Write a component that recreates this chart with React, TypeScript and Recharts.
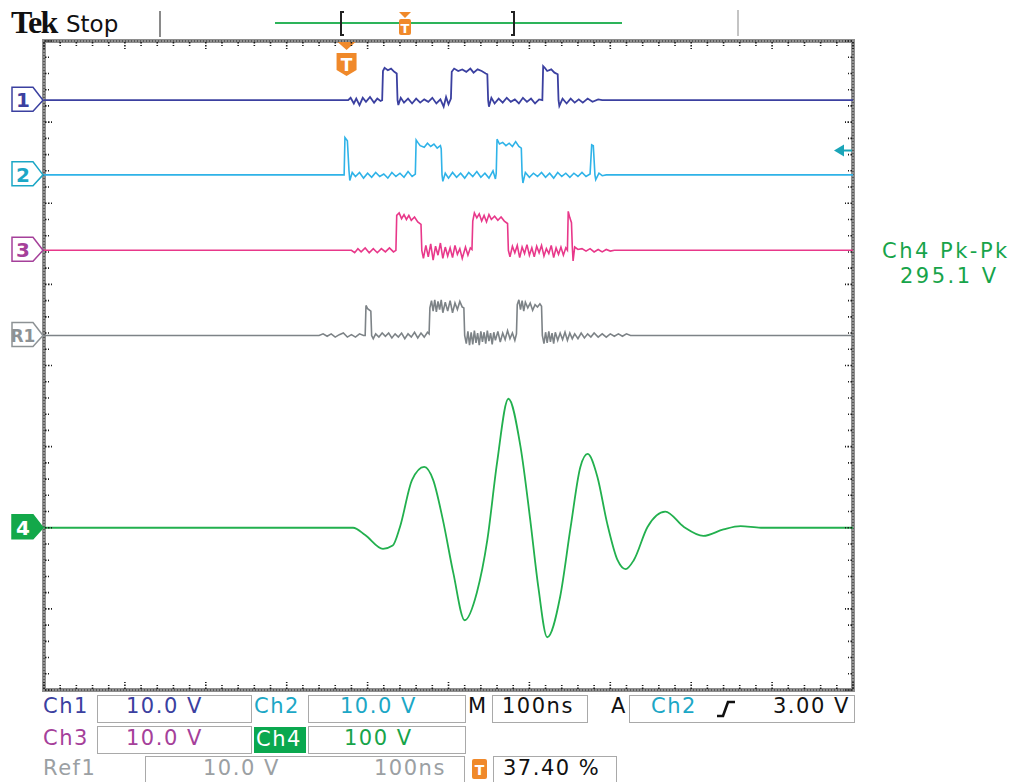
import React from 'react';
import { ComposedChart, Line, XAxis, YAxis, ReferenceArea, ReferenceDot } from 'recharts';

// horizontal: 10 div x 100 ns, vertical: 8 div
const timeTicks = Array.from({ length: 51 }, (_, i) => i * 20);
const divTicks = Array.from({ length: 41 }, (_, i) => Math.round(i * 2) / 10);

// channel positions on screen (divisions from bottom) and scales (V/div)
const CH1_POS = 7.27;
const CH2_POS = 6.35;
const CH3_POS = 5.42;
const REF1_POS = 4.37;
const CH4_POS = 2.0;
const DIGITAL_SCALE = 10;
const CH4_SCALE = 100;
const TRIGGER_TIME = 374;
const TRIGGER_LEVEL = 3.0;

// [time ns, volts]
const ch1Samples = [
  [0, 0], [376, 0], [379, 0.3], [383, -0.4], [386, 0.2], [390, -0.6], [394, 0.3], [398, -0.2],
  [403, 0.4], [408, -0.3], [412, 0.2], [416, -0.1], [418, 0], [419, 3.6], [421, 4.0], [425, 3.7], [429, 3.9], [433, 3.5],
  [436, 3.3], [437, 0], [438, -0.6], [441, 0.3], [445, -0.3], [450, 0.2], [455, -0.4], [460, 0.2], [465, -0.3], [470, 0.1],
  [475, -0.2], [480, 0.3], [485, -0.4], [490, 0.1], [494, -0.8], [497, 0.4], [500, -0.5], [503, 0.2], [504, 3.5], [507, 3.9],
  [512, 3.6], [517, 3.8], [522, 3.5], [527, 3.9], [531, 3.4], [536, 3.8], [541, 3.6], [546, 3.3], [548, 3.2], [549, 0],
  [550, -0.8], [553, 0.3], [557, -0.4], [562, 0.2], [567, -0.3], [572, 0.3], [577, -0.2], [582, 0.1], [587, -0.4], [592, 0.3],
  [597, -0.2], [602, 0.2], [607, -0.4], [612, 0.1], [616, 0], [617, 4.2], [619, 4.0], [622, 3.6], [627, 3.8], [631, 3.4],
  [635, 3.2], [636, 0], [637, -0.7], [641, 0.2], [646, -0.4], [651, 0.2], [656, -0.3], [661, 0.1], [666, -0.3], [672, 0.2],
  [678, -0.2], [685, 0.1], [690, 0], [1000, 0],
];

const ch2Samples = [
  [0, 0], [371, 0], [372, 4.6], [375, 4.2], [377, 0.5], [378, -0.7], [381, 0.3], [385, -0.2], [390, 0.3], [395, -0.4],
  [400, 0.2], [405, -0.3], [410, 0.3], [415, -0.2], [420, 0.1], [425, -0.4], [430, 0.3], [435, -0.2], [440, 0.2], [445, -0.3],
  [450, 0.4], [455, -0.2], [459, 0.1], [460, 4.3], [462, 4.0], [465, 3.6], [470, 3.4], [474, 3.9], [478, 3.5], [482, 3.8],
  [486, 3.3], [490, 3.6], [491, 3.2], [492, 0], [493, -0.8], [496, 0.2], [500, -0.4], [505, 0.3], [510, -0.3], [515, 0.2],
  [520, -0.4], [525, 0.3], [530, -0.2], [535, 0.4], [540, -0.3], [545, 0.2], [550, -0.4], [555, 0.5], [558, -0.5], [559, 0.2],
  [560, 4.4], [563, 3.8], [567, 4.0], [571, 3.6], [575, 3.9], [579, 3.5], [583, 4.1], [587, 3.5], [590, 3.3], [591, 0],
  [592, -1.0], [595, 0.3], [600, -0.3], [605, 0.2], [610, -0.2], [615, 0.3], [620, -0.3], [625, 0.2], [630, -0.4], [635, 0.3],
  [640, -0.2], [645, 0.2], [650, -0.3], [655, 0.2], [660, -0.2], [665, 0.3], [670, -0.2], [675, 0.1], [677, 3.7], [679, 3.6],
  [681, 0], [682, -0.6], [686, 0.2], [690, -0.1], [695, 0], [1000, 0],
];

const ch3Samples = [
  [0, 0], [380, 0], [384, -0.3], [388, 0.2], [392, -0.2], [397, 0.3], [402, -0.3], [407, 0.2], [412, -0.3], [417, 0.2],
  [422, -0.2], [427, 0.3], [432, -0.2], [435, 0], [436, 4.3], [439, 4.6], [442, 3.9], [445, 4.4], [448, 3.8], [451, 4.3],
  [454, 3.7], [458, 4.1], [462, 3.5], [466, 3.2], [467, 0], [469, -1.0], [472, 0.6], [475, -0.8], [478, 0.8], [481, -1.2],
  [484, 0.5], [487, -0.6], [490, 0.9], [493, -1.0], [496, 0.4], [499, -0.7], [502, 0.3], [505, -0.9], [508, 0.6], [511, -0.5],
  [514, 0.2], [517, -1.0], [521, 0.4], [524, -0.6], [527, 0.3], [529, 0.1], [530, 3.6], [532, 4.6], [535, 4.0], [538, 4.5],
  [541, 3.6], [544, 4.3], [547, 3.5], [550, 4.4], [553, 3.8], [557, 4.2], [561, 3.7], [565, 4.1], [569, 3.6], [573, 3.3],
  [574, 0], [576, -0.8], [579, 0.5], [582, -0.3], [585, 0.6], [588, -0.9], [591, 0.4], [594, -0.4], [597, 0.7], [600, -0.6],
  [603, 0.3], [606, -0.8], [609, 0.5], [612, -0.3], [615, 0.6], [618, -0.7], [621, 0.2], [624, -0.4], [627, 0.6], [630, -0.9],
  [633, 0.3], [636, -0.5], [639, 0.4], [642, -0.6], [645, 0.3], [647, 0], [648, 4.8], [650, 4.0], [652, 3.4], [653, 0.5],
  [654, -1.3], [656, 0.4], [660, 0.1], [665, 0.2], [670, -0.1], [675, 0.2], [680, -0.2], [685, 0.1], [690, -0.2], [695, 0.1],
  [700, -0.1], [705, 0], [1000, 0],
];

const ref1Samples = [
  [0, 0], [340, 0], [345, 0.2], [350, -0.1], [355, 0.2], [360, -0.2], [365, 0.1], [370, 0.3], [375, -0.2], [380, 0.1],
  [385, -0.2], [390, 0.2], [395, 0], [397, 0], [398, 3.7], [400, 3.3], [404, 3.0], [405, 0], [407, -0.4], [410, 0.2],
  [414, -0.2], [418, 0.3], [422, -0.1], [426, 0.3], [430, -0.3], [434, 0.2], [438, -0.2], [442, 0.3], [446, -0.4], [450, 0.2],
  [454, -0.2], [458, 0.4], [462, -0.3], [466, 0.3], [470, -0.2], [474, 0.4], [476, 0.2], [477, 3.4], [479, 4.3], [481, 3.0],
  [483, 4.4], [485, 2.9], [487, 4.2], [489, 3.2], [491, 4.4], [493, 2.8], [496, 4.1], [499, 3.0], [502, 4.3], [505, 2.8],
  [508, 4.0], [511, 3.2], [514, 4.2], [517, 3.5], [519, 3.4], [520, 0], [522, -1.0], [524, 0.5], [526, -1.2], [528, 0.4],
  [530, -1.1], [532, 0.6], [534, -0.9], [536, 0.3], [538, -1.2], [540, 0.5], [542, -0.8], [544, 0.4], [546, -1.0], [548, 0.6],
  [550, -0.7], [552, 0.3], [554, -1.1], [556, 0.4], [558, -0.6], [561, 0.5], [564, -0.8], [567, 0.3], [570, -0.5], [573, 0.6],
  [576, -0.4], [579, 0.3], [582, -0.6], [584, 0.2], [585, 3.8], [587, 4.4], [589, 3.2], [591, 4.3], [593, 3.0], [595, 4.1],
  [598, 3.4], [601, 4.0], [604, 3.1], [607, 3.8], [610, 3.5], [613, 3.9], [615, 3.6], [616, 0], [618, -1.0], [620, 0.4],
  [622, -0.9], [624, 0.5], [626, -0.8], [628, 0.3], [630, -1.0], [632, 0.4], [635, -0.6], [638, 0.3], [641, -0.5], [644, 0.4],
  [647, -0.6], [650, 0.3], [653, -0.4], [656, 0.2], [660, -0.4], [664, 0.3], [668, -0.3], [672, 0.2], [676, -0.2], [680, 0.3],
  [685, -0.2], [690, 0.2], [695, -0.2], [700, 0.2], [705, -0.1], [710, 0.2], [715, -0.1], [720, 0.2], [725, 0], [1000, 0],
];

const ch4Samples = [
  [0, 0], [382, 0], [397, -9], [419, -26], [431, -22], [440, 1], [455, 59], [470, 75], [481, 59], [493, 10],
  [506, -56], [520, -114], [535, -80], [548, -15], [560, 80], [574, 159], [589, 100], [601, 10], [611, -73], [622, -135],
  [638, -85], [651, 1], [663, 75], [672, 91], [684, 63], [696, 6], [709, -40], [719, -51], [729, -40], [746, 1],
  [768, 20], [791, 1], [815, -10], [840, -2], [861, 2], [886, 0], [1000, 0],
];

const toTrace = (samples: number[][], pos: number, scale: number) =>
  samples.map(([t, v]) => ({ t, y: pos + v / scale }));

const ch1Data = toTrace(ch1Samples, CH1_POS, DIGITAL_SCALE);
const ch2Data = toTrace(ch2Samples, CH2_POS, DIGITAL_SCALE);
const ch3Data = toTrace(ch3Samples, CH3_POS, DIGITAL_SCALE);
const ref1Data = toTrace(ref1Samples, REF1_POS, DIGITAL_SCALE);
const ch4Data = toTrace(ch4Samples, CH4_POS, CH4_SCALE);

const C_CH1 = '#3b40a0';
const C_CH2 = '#2fb3e8';
const C_CH2_TXT = '#1ca7c6';
const C_CH3 = '#e8388a';
const C_CH3_TXT = '#a5409a';
const C_REF = '#7d8387';
const C_CH4 = '#22b04e';
const C_ORANGE = '#f0892a';
const FONT = "'DejaVu Sans', 'Liberation Sans', sans-serif";

const markers = [
  { pos: CH1_POS, label: '1', color: C_CH1, filled: false },
  { pos: CH2_POS, label: '2', color: C_CH2_TXT, filled: false },
  { pos: CH3_POS, label: '3', color: C_CH3_TXT, filled: false },
  { pos: REF1_POS, label: 'R1', color: '#8d9295', filled: false },
  { pos: CH4_POS, label: '4', color: '#13a84a', filled: true },
];

const dotted = { stroke: '#1a1a1a', strokeWidth: 1.6, strokeDasharray: '1.5 1.5' };

const TopTick = ({ x, y, index }: any) => (
  <line x1={x} x2={x} y1={y + 1} y2={y + (index % 5 === 0 ? 8 : 5)} {...dotted} />
);
const BottomTick = ({ x, y, index }: any) => (
  <line x1={x} x2={x} y1={y - 1} y2={y - (index % 5 === 0 ? 8 : 5)} {...dotted} />
);
const LeftTick = ({ x, y, index }: any) => (
  <line x1={x + 1} x2={x + (index % 5 === 0 ? 8 : 5)} y1={y} y2={y} {...dotted} />
);
const RightTick = ({ x, y, index }: any) => (
  <line x1={x - 1} x2={x - (index % 5 === 0 ? 8 : 5)} y1={y} y2={y} {...dotted} />
);

const MarkerTick = ({ x, y, payload }: any) => {
  const m = markers.find((k) => Math.abs(k.pos - payload.value) < 1e-6);
  if (!m) return <g />;
  const px = x + 1;
  const pts = `${px - 32},${y - 13} ${px - 11},${y - 13} ${px - 1},${y} ${px - 11},${y + 11} ${px - 32},${y + 11}`;
  return (
    <g>
      <polygon points={pts} fill={m.filled ? m.color : '#fff'} stroke={m.color} strokeWidth={1.5} />
      <text x={px - 21} y={y + 7} textAnchor="middle" fontFamily={FONT} fontSize={m.label.length > 1 ? 17 : 20}
        fontWeight="bold" fill={m.filled ? '#fff' : m.color}>{m.label}</text>
    </g>
  );
};

const TriggerMarker = ({ cx, cy }: any) => (
  <g>
    <polygon points={`${cx - 9},${cy + 1} ${cx + 9},${cy + 1} ${cx},${cy + 9}`} fill={C_ORANGE} />
    <path d={`M${cx - 10},${cy + 12} h20 v17 l-10,6 l-10,-6 z`} fill={C_ORANGE} />
    <text x={cx} y={cy + 30} textAnchor="middle" fontFamily={FONT} fontSize={17} fontWeight="bold" fill="#fff">T</text>
  </g>
);

const LevelMarker = ({ cx, cy }: any) => (
  <g>
    <polygon points={`${cx - 19},${cy} ${cx - 9},${cy - 6} ${cx - 9},${cy + 6}`} fill="#1aa5b8" />
    <line x1={cx - 10} x2={cx - 1} y1={cy} y2={cy} stroke="#1aa5b8" strokeWidth={2} />
  </g>
);

const Txt = ({ left, top, color = '#111', size = 21, spacing = 1.5, children }: any) => (
  <div style={{ position: 'absolute', left, top, color, fontSize: size, lineHeight: `${size}px`, fontFamily: FONT,
    letterSpacing: spacing, whiteSpace: 'pre' }}>{children}</div>
);

const Box = ({ left, top, width, height }: any) => (
  <div style={{ position: 'absolute', left, top, width, height, border: '1.5px solid #a9a9a9', boxSizing: 'border-box' }} />
);

const axisCommon = { axisLine: false, tickLine: false, tickSize: 0, tickMargin: 0, interval: 0 as const, allowDataOverflow: true };

export default function App() {
  return (
    <div style={{ position: 'absolute', left: 0, top: 0, width: 1027, height: 782, background: '#fff', overflow: 'hidden' }}>
      {/* header */}
      <svg width={1027} height={40} style={{ position: 'absolute', left: 0, top: 0 }}>
        <text x={11} y={33} fontFamily="'Liberation Serif', serif" fontWeight="bold" fontSize={32} letterSpacing={-1.5} fill="#111">Tek</text>
        <text x={66} y={32} fontFamily={FONT} fontSize={23} fill="#111">Stop</text>
        <line x1={160} x2={160} y1={11} y2={37} stroke="#8a8a8a" strokeWidth={2} />
        <line x1={738} x2={738} y1={10} y2={36} stroke="#b0b0b0" strokeWidth={1.5} />
        <line x1={275} x2={622} y1={23} y2={23} stroke="#2db45a" strokeWidth={2} />
        <path d="M344,12 h-3 v23 h3" fill="none" stroke="#222" strokeWidth={2} />
        <path d="M511,12 h3 v23 h-3" fill="none" stroke="#222" strokeWidth={2} />
        <polygon points="399,12 411,12 405,18" fill={C_ORANGE} />
        <rect x={399} y={19} width={12} height={16} rx={2} fill={C_ORANGE} />
        <text x={405} y={33} textAnchor="middle" fontFamily={FONT} fontSize={13} fontWeight="bold" fill="#fff">T</text>
      </svg>

      <div style={{ position: 'absolute', left: 0, top: 0 }}>
        <ComposedChart width={1027} height={782} margin={{ top: 40, right: 173, bottom: 91, left: 42 }}>
          <XAxis xAxisId="bottom" type="number" dataKey="t" domain={[0, 1000]} ticks={timeTicks} height={1} tick={BottomTick} {...axisCommon} />
          <XAxis xAxisId="top" orientation="top" type="number" dataKey="t" domain={[0, 1000]} ticks={timeTicks} height={1} tick={TopTick} {...axisCommon} />
          <YAxis yAxisId="grid" type="number" domain={[0, 8]} ticks={divTicks} width={1} tick={LeftTick} {...axisCommon} />
          <YAxis yAxisId="markers" type="number" domain={[0, 8]} ticks={markers.map((m) => m.pos)} width={1} tick={MarkerTick} {...axisCommon} />
          <YAxis yAxisId="right" orientation="right" type="number" domain={[0, 8]} ticks={divTicks} width={1} tick={RightTick} {...axisCommon} />
          <ReferenceArea xAxisId="bottom" yAxisId="grid" x1={0} x2={1000} y1={0} y2={8} fill="none" stroke="#8e8e8e" strokeWidth={4} />
          <ReferenceArea xAxisId="bottom" yAxisId="grid" x1={0} x2={1000} y1={0} y2={8} fill="none" stroke="#222" strokeWidth={1} strokeDasharray="1 2" />
          <Line xAxisId="bottom" yAxisId="grid" data={ch4Data} dataKey="y" type="monotone" stroke={C_CH4} strokeWidth={1.8} dot={false} isAnimationActive={false} />
          <Line xAxisId="bottom" yAxisId="grid" data={ref1Data} dataKey="y" type="linear" stroke={C_REF} strokeWidth={1.6} dot={false} isAnimationActive={false} />
          <Line xAxisId="bottom" yAxisId="grid" data={ch3Data} dataKey="y" type="linear" stroke={C_CH3} strokeWidth={1.6} dot={false} isAnimationActive={false} />
          <Line xAxisId="bottom" yAxisId="grid" data={ch2Data} dataKey="y" type="linear" stroke={C_CH2} strokeWidth={1.6} dot={false} isAnimationActive={false} />
          <Line xAxisId="bottom" yAxisId="grid" data={ch1Data} dataKey="y" type="linear" stroke={C_CH1} strokeWidth={1.8} dot={false} isAnimationActive={false} />
          <ReferenceDot xAxisId="bottom" yAxisId="grid" x={TRIGGER_TIME} y={8} r={1} shape={TriggerMarker} />
          <ReferenceDot xAxisId="bottom" yAxisId="grid" x={1000} y={CH2_POS + TRIGGER_LEVEL / DIGITAL_SCALE} r={1} shape={LevelMarker} />
        </ComposedChart>
      </div>

      {/* measurement readout */}
      <Txt left={882} top={241} color="#17a44a" size={21} spacing={2.5}>Ch4 Pk-Pk</Txt>
      <Txt left={900} top={266} color="#17a44a" size={21} spacing={2.5}>295.1 V</Txt>

      {/* bottom status */}
      <Box left={97} top={695} width={155} height={28} />
      <Box left={308} top={695} width={158} height={28} />
      <Box left={492} top={695} width={96} height={28} />
      <Box left={629} top={695} width={226} height={28} />
      <Box left={97} top={726} width={155} height={28} />
      <Box left={308} top={726} width={158} height={28} />
      <Box left={145} top={756} width={320} height={34} />
      <Box left={493} top={756} width={124} height={34} />
      <div style={{ position: 'absolute', left: 254, top: 727, width: 52, height: 26, background: '#0aa84f' }} />

      <Txt left={43} top={696} color={C_CH1}>Ch1</Txt>
      <Txt left={126} top={696} color={C_CH1}>10.0 V</Txt>
      <Txt left={254} top={696} color={C_CH2_TXT}>Ch2</Txt>
      <Txt left={340} top={696} color={C_CH2_TXT}>10.0 V</Txt>
      <Txt left={468} top={696}>M</Txt>
      <Txt left={502} top={696}>100ns</Txt>
      <Txt left={611} top={696}>A</Txt>
      <Txt left={651} top={696} color={C_CH2_TXT}>Ch2</Txt>
      <svg width={24} height={24} style={{ position: 'absolute', left: 714, top: 697 }}>
        <path d="M3,19 h6 l5,-14 h7" fill="none" stroke="#111" strokeWidth={2.6} />
      </svg>
      <Txt left={773} top={696}>3.00 V</Txt>

      <Txt left={43} top={728} color={C_CH3_TXT}>Ch3</Txt>
      <Txt left={126} top={728} color={C_CH3_TXT}>10.0 V</Txt>
      <Txt left={256} top={729} color="#fff">Ch4</Txt>
      <Txt left={344} top={728} color="#17a44a">100 V</Txt>

      <Txt left={43} top={758} color="#9ba0a3">Ref1</Txt>
      <Txt left={203} top={758} color="#9ba0a3">10.0 V</Txt>
      <Txt left={374} top={758} color="#9ba0a3">100ns</Txt>
      <svg width={18} height={22} style={{ position: 'absolute', left: 471, top: 758 }}>
        <rect x={1} y={1} width={15} height={20} rx={2} fill={C_ORANGE} />
        <text x={8.5} y={17} textAnchor="middle" fontFamily={FONT} fontSize={14} fontWeight="bold" fill="#fff">T</text>
      </svg>
      <Txt left={503} top={758}>37.40 %</Txt>
    </div>
  );
}
